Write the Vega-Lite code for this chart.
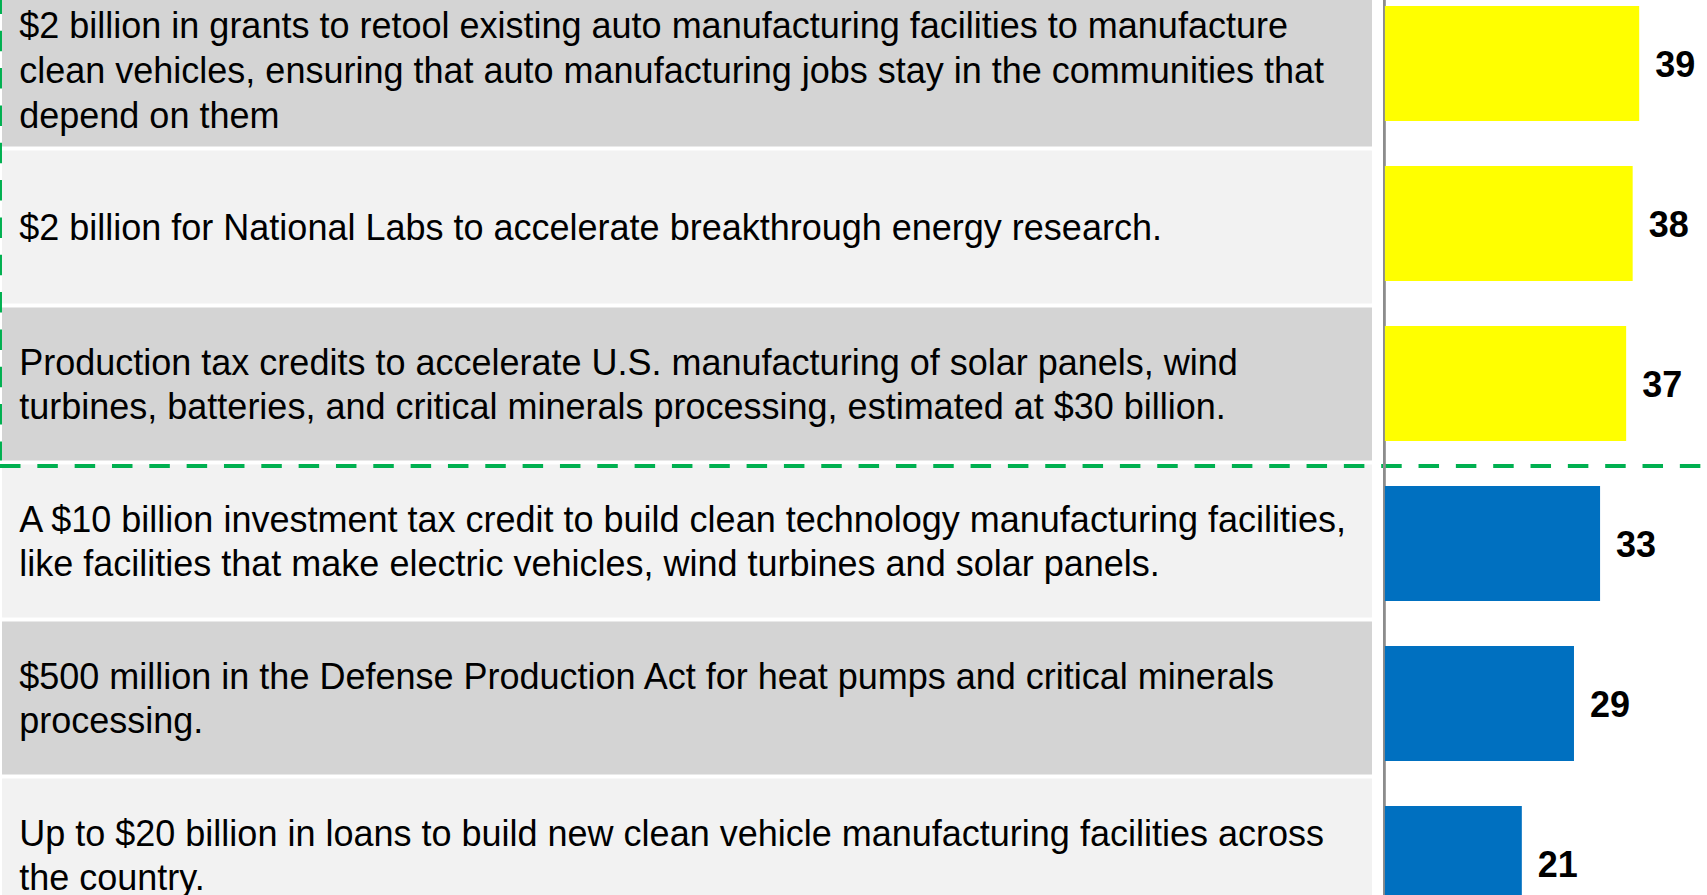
{
  "$schema": "https://vega.github.io/schema/vega-lite/v6.json",
  "width": 1707,
  "height": 895,
  "padding": 0,
  "autosize": {"type": "none"},
  "background": "#ffffff",
  "config": {"view": {"stroke": null}, "axis": {"disable": true}, "legend": {"disable": true}},
  "data": {
    "values": [
      {"id": 1, "tier": "Top", "value": 39, "label": ["$2 billion in grants to retool existing auto manufacturing facilities to manufacture", "clean vehicles, ensuring that auto manufacturing jobs stay in the communities that", "depend on them"]},
      {"id": 2, "tier": "Top", "value": 38, "label": ["$2 billion for National Labs to accelerate breakthrough energy research."]},
      {"id": 3, "tier": "Top", "value": 37, "label": ["Production tax credits to accelerate U.S. manufacturing of solar panels, wind", "turbines, batteries, and critical minerals processing, estimated at $30 billion."]},
      {"id": 4, "tier": "Other", "value": 33, "label": ["A $10 billion investment tax credit to build clean technology manufacturing facilities,", "like facilities that make electric vehicles, wind turbines and solar panels."]},
      {"id": 5, "tier": "Other", "value": 29, "label": ["$500 million in the Defense Production Act for heat pumps and critical minerals", "processing."]},
      {"id": 6, "tier": "Other", "value": 21, "label": ["Up to $20 billion in loans to build new clean vehicle manufacturing facilities across", "the country."]}
    ]
  },
  "layer": [
    {
      "layer": [
        {
          "mark": {"type": "rect"},
          "encoding": {
            "x": {"datum": -212.09, "type": "quantitative", "scale": {"domain": [-212.4, 49.4], "nice": false, "zero": false}},
            "x2": {"datum": -1.98},
            "y": {"field": "id", "type": "ordinal", "scale": {"domain": [1, 2, 3, 4, 5, 6], "range": [-8.5, 933.5], "paddingInner": 0.025, "paddingOuter": 0.0125}},
            "color": {"condition": {"test": "datum.id % 2 === 1", "value": "#d4d4d4"}, "value": "#f2f2f2"}
          }
        },
        {
          "transform": [{"filter": "length(datum.label) === 1"}],
          "mark": {"type": "text", "align": "left", "baseline": "middle", "dy": 2, "font": "Liberation Sans", "fontSize": 36, "lineHeight": 44.6, "color": "#000000"},
          "encoding": {
            "x": {"datum": -209.45, "type": "quantitative"},
            "y": {"field": "id", "type": "ordinal"},
            "text": {"field": "label"}
          }
        },
        {
          "transform": [{"filter": "length(datum.label) === 2"}],
          "mark": {"type": "text", "align": "left", "baseline": "middle", "dy": -20.3, "font": "Liberation Sans", "fontSize": 36, "lineHeight": 44.6, "color": "#000000"},
          "encoding": {
            "x": {"datum": -209.45, "type": "quantitative"},
            "y": {"field": "id", "type": "ordinal"},
            "text": {"field": "label"}
          }
        },
        {
          "transform": [{"filter": "length(datum.label) === 3"}],
          "mark": {"type": "text", "align": "left", "baseline": "middle", "dy": -42.6, "font": "Liberation Sans", "fontSize": 36, "lineHeight": 44.6, "color": "#000000"},
          "encoding": {
            "x": {"datum": -209.45, "type": "quantitative"},
            "y": {"field": "id", "type": "ordinal"},
            "text": {"field": "label"}
          }
        },
        {
          "data": {"values": [{"id": 1}]},
          "mark": {"type": "rule", "color": "#00b050", "strokeWidth": 4, "strokeDash": [20.5, 16.83]},
          "encoding": {
            "x": {"datum": -212.4, "type": "quantitative"},
            "x2": {"datum": 49.4},
            "y": {"datum": 4, "type": "ordinal", "bandPosition": 0.01}
          }
        },
        {
          "data": {"values": [{"id": 1}]},
          "mark": {"type": "rule", "color": "#00b050", "strokeWidth": 2, "strokeDash": [20.5, 16.83]},
          "encoding": {
            "x": {"datum": -212.25, "type": "quantitative"},
            "y": {"datum": 1, "type": "ordinal", "bandPosition": 0},
            "y2": {"datum": 3, "bandPosition": 1}
          }
        }
      ]
    },
    {
      "layer": [
        {
          "mark": {"type": "rule", "color": "#8c8c8c", "strokeWidth": 2},
          "encoding": {
            "x": {"datum": -0.1, "type": "quantitative"}
          }
        },
        {
          "mark": {"type": "bar"},
          "encoding": {
            "x": {"field": "value", "type": "quantitative"},
            "y": {"field": "id", "type": "ordinal", "scale": {"domain": [1, 2, 3, 4, 5, 6], "range": [-16.5, 943.5], "paddingInner": 0.28, "paddingOuter": 0.14}},
            "color": {"field": "tier", "type": "nominal", "scale": {"domain": ["Top", "Other"], "range": ["#ffff00", "#0070c0"]}}
          }
        },
        {
          "mark": {"type": "text", "align": "left", "baseline": "middle", "dx": 16, "dy": 2.5, "font": "Liberation Sans", "fontSize": 36, "fontWeight": "bold", "color": "#000000"},
          "encoding": {
            "x": {"field": "value", "type": "quantitative"},
            "y": {"field": "id", "type": "ordinal"},
            "text": {"field": "value", "type": "quantitative"}
          }
        }
      ]
    }
  ],
  "resolve": {"scale": {"y": "independent"}}
}
